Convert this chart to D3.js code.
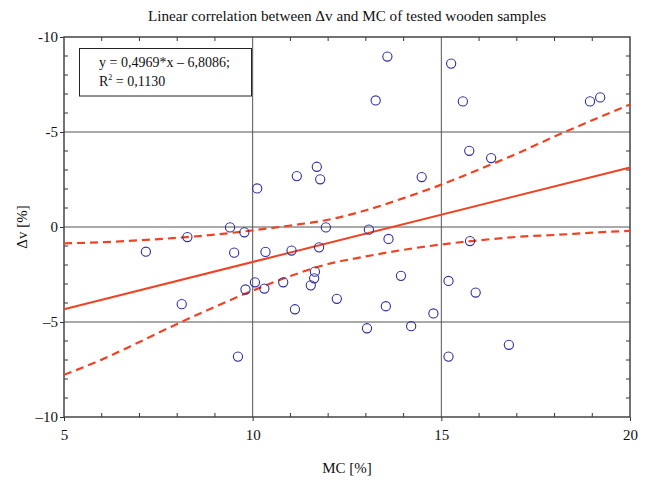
<!DOCTYPE html>
<html>
<head>
<meta charset="utf-8">
<script src="https://cdn.jsdelivr.net/npm/d3@7"></script>
<style>
  body { margin: 0; background: #fff; }
  svg text { font-family: "Liberation Serif", "DejaVu Serif", serif; fill: #111; }
</style>
</head>
<body>
<div id="chart"></div>
<script>
// Data
const mc = [10.12, 13.57, 13.26, 11.17, 11.70, 11.79, 14.48,
    15.26, 15.57, 18.94, 19.21, 15.74, 16.32,
    9.40, 9.78, 8.27, 7.17, 9.51, 10.06, 9.81, 8.12, 9.61,
    11.94, 13.08, 13.60, 10.34, 11.03, 11.76, 10.31, 10.81, 11.65, 11.63, 11.54,
    13.93, 12.23, 11.12, 13.53, 14.79, 13.03, 14.20,
    15.76, 15.19, 15.91, 15.19, 16.79];
const dv = [2.03, 8.97, 6.66, 2.68, 3.17, 2.51, 2.63,
    8.60, 6.61, 6.61, 6.82, 4.01, 3.63,
    -0.02, -0.28, -0.53, -1.30, -1.35, -2.91, -3.29, -4.06, -6.82,
    -0.02, -0.14, -0.63, -1.31, -1.24, -1.07, -3.24, -2.91, -2.35, -2.70, -3.07,
    -2.57, -3.78, -4.33, -4.17, -4.55, -5.33, -5.22,
    -0.74, -2.84, -3.45, -6.82, -6.20];

// regression from the legend
const slope = 0.4969, intercept = -6.8086;

// confidence band read at whole MC values
const bandX = [5, 6, 7, 8, 9, 10, 11, 12, 13, 14, 15, 16, 17, 18, 19, 20];
const bandUpper = [-0.86, -0.80, -0.70, -0.57, -0.40, -0.18, 0.08, 0.38, 0.88, 1.52, 2.23, 3.03, 3.86, 4.76, 5.62, 6.45];
const bandLower = [-7.78, -6.98, -6.05, -5.10, -4.20, -3.35, -2.58, -1.95, -1.55, -1.20, -0.92, -0.70, -0.52, -0.42, -0.30, -0.20];

const xTicks = [5, 10, 15, 20];
const yTicks = [10, 5, 0, -5, -10];
const yTickLabels = ["-10", "-5", "0", "\u20135", "\u201310"];

const width = 646, height = 480;
const margin = {top: 37, right: 16, bottom: 63, left: 64};
const red = "#ee4424", blue = "#2e2e9e", grid = "#555";

const svg = d3.select("#chart").append("svg")
    .attr("width", width)
    .attr("height", height);

const x = d3.scaleLinear().domain([5, 20]).range([margin.left, width - margin.right]);
const y = d3.scaleLinear().domain([-10, 10]).range([height - margin.bottom, margin.top]);

// --- grid lines ---
const g = svg.append("g");
g.selectAll("line.hg").data([5, 0, -5]).enter().append("line")
    .attr("x1", x(5)).attr("x2", x(20))
    .attr("y1", d => y(d)).attr("y2", d => y(d))
    .attr("stroke", grid).attr("stroke-width", 1);
g.selectAll("line.vg").data([10, 15]).enter().append("line")
    .attr("y1", y(-10)).attr("y2", y(10))
    .attr("x1", d => x(d)).attr("x2", d => x(d))
    .attr("stroke", grid).attr("stroke-width", 1);

// --- minor ticks (inside, on all four sides) ---
const minorX = d3.range(6, 20).filter(v => v % 5 !== 0);
const minorY = d3.range(-9, 10).filter(v => v % 5 !== 0);
const minor = svg.append("g").attr("stroke", "#333").attr("stroke-width", 1);
minorX.forEach(v => {
    minor.append("line").attr("x1", x(v)).attr("x2", x(v)).attr("y1", y(-10)).attr("y2", y(-10) - 4);
    minor.append("line").attr("x1", x(v)).attr("x2", x(v)).attr("y1", y(10)).attr("y2", y(10) + 4);
});
minorY.forEach(v => {
    minor.append("line").attr("y1", y(v)).attr("y2", y(v)).attr("x1", x(5)).attr("x2", x(5) + 4);
    minor.append("line").attr("y1", y(v)).attr("y2", y(v)).attr("x1", x(20)).attr("x2", x(20) - 4);
});

// --- axes ---
const xAxis = svg.append("g")
    .attr("transform", `translate(0,${y(-10)})`)
    .call(d3.axisBottom(x).tickValues(xTicks).tickSize(4).tickPadding(8).tickFormat(d3.format("d")));
const yAxis = svg.append("g")
    .attr("transform", `translate(${x(5)},0)`)
    .call(d3.axisLeft(y).tickValues(yTicks).tickSize(4).tickPadding(2)
        .tickFormat((d, i) => yTickLabels[i]));
[xAxis, yAxis].forEach(a => {
    a.select(".domain").remove();
    a.selectAll("line").attr("stroke", "#333");
    a.selectAll("text").style("font-size", "15px").attr("fill", "#111");
});

// frame
svg.append("rect")
    .attr("x", x(5)).attr("y", y(10))
    .attr("width", x(20) - x(5)).attr("height", y(-10) - y(10))
    .attr("fill", "none").attr("stroke", "#444").attr("stroke-width", 1.5);

// --- confidence band (dashed) ---
const bandLine = d3.line().curve(d3.curveMonotoneX)
    .x(d => x(d[0])).y(d => y(d[1]));
[bandUpper, bandLower].forEach(b => {
    svg.append("path")
        .datum(bandX.map((v, i) => [v, b[i]]))
        .attr("d", bandLine)
        .attr("fill", "none")
        .attr("stroke", red)
        .attr("stroke-width", 2.2)
        .attr("stroke-dasharray", "8,5");
});

// --- regression line ---
svg.append("line")
    .attr("x1", x(5)).attr("y1", y(slope * 5 + intercept))
    .attr("x2", x(20)).attr("y2", y(slope * 20 + intercept))
    .attr("stroke", red).attr("stroke-width", 2);

// --- points ---
svg.append("g").selectAll("circle")
    .data(mc.map((v, i) => [v, dv[i]]))
    .enter().append("circle")
    .attr("cx", d => x(d[0]))
    .attr("cy", d => y(d[1]))
    .attr("r", 4.6)
    .attr("fill", "none")
    .attr("stroke", blue)
    .attr("stroke-width", 1.1);

// --- legend box ---
svg.append("rect")
    .attr("x", 79.5).attr("y", 48.5).attr("width", 172).attr("height", 47.5)
    .attr("fill", "#fff").attr("stroke", "#222").attr("stroke-width", 1);
svg.append("text").attr("x", 99).attr("y", 67)
    .style("font-size", "14px")
    .text("y = 0,4969*x \u2013 6,8086;");
const r2 = svg.append("text").attr("x", 99).attr("y", 86).style("font-size", "14px");
r2.append("tspan").text("R");
r2.append("tspan").attr("dy", -6).style("font-size", "8px").text("2");
r2.append("tspan").attr("dy", 6).text(" = 0,1130");

// --- titles ---
svg.append("text")
    .attr("x", (x(5) + x(20)) / 2).attr("y", 21)
    .attr("text-anchor", "middle")
    .style("font-size", "15.2px")
    .text("Linear correlation between \u0394v and MC of tested wooden samples");
svg.append("text")
    .attr("x", (x(5) + x(20)) / 2).attr("y", 473)
    .attr("text-anchor", "middle")
    .style("font-size", "15px")
    .text("MC [%]");
svg.append("text")
    .attr("transform", `translate(27,${y(0)}) rotate(-90)`)
    .attr("text-anchor", "middle")
    .style("font-size", "15px")
    .text("\u0394v [%]");
</script>
</body>
</html>
